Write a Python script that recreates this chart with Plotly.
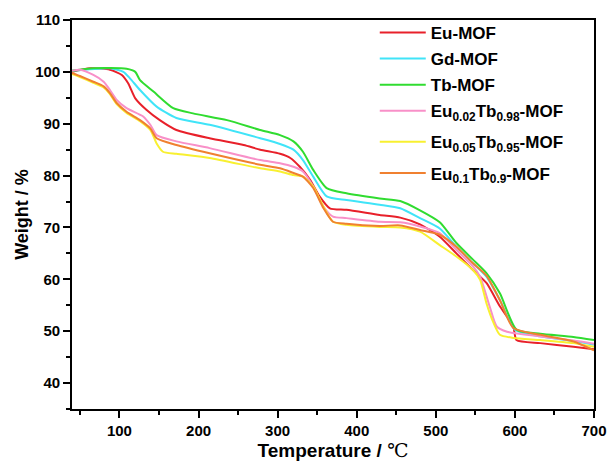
import plotly.graph_objects as go

# Thermogravimetric curves (temperature in deg C, residual weight in %)
eu_T = [40, 63, 88, 103, 111, 120, 134, 151, 172, 214, 257, 278, 303, 316, 328, 341, 353, 366,
        387, 429, 455, 480, 505, 526, 547, 564, 581, 598, 602, 632, 674, 700]
eu_w = [100.0, 100.7, 100.4, 99.4, 97.8, 94.9, 92.7, 90.7, 88.8, 87.2, 85.9, 85.0, 84.2, 83.4,
        81.7, 79.2, 76.0, 73.7, 73.4, 72.4, 71.9, 70.6, 68.2, 65.0, 61.8, 59.3, 54.8, 50.9, 48.3,
        47.7, 47.0, 46.5]

gd_T = [40, 88, 105, 113, 126, 147, 172, 214, 278, 303, 320, 332, 345, 362, 387, 429, 455, 480,
        505, 526, 547, 564, 581, 600, 632, 674, 700]
gd_w = [100.2, 100.7, 100.0, 98.8, 96.5, 93.3, 91.1, 89.8, 87.2, 86.1, 85.0, 83.0, 79.8, 76.0,
        75.3, 74.4, 73.7, 71.8, 69.8, 66.3, 63.1, 60.5, 56.0, 50.3, 49.0, 48.1, 47.4]

tb_T = [40, 67, 109, 120, 126, 143, 168, 193, 236, 278, 303, 320, 332, 345, 362, 387, 429, 455,
        480, 505, 526, 547, 564, 581, 602, 632, 674, 700]
tb_w = [100.2, 100.7, 100.6, 100.0, 98.4, 96.2, 93.0, 92.0, 90.7, 88.8, 87.8, 86.6, 84.6, 81.1,
        77.6, 76.6, 75.6, 75.1, 73.3, 71.0, 67.0, 63.8, 61.2, 57.3, 50.3, 49.5, 48.9, 48.3]

eu002_T = [40, 50, 67, 80, 88, 96.5, 109, 130, 139, 147, 172, 214, 278, 303, 320, 332, 345, 358,
           370, 387, 429, 455, 480, 505, 526, 547, 556, 568, 577, 590, 632, 674, 700]
eu002_w = [100.2, 100.4, 99.4, 98.1, 96.5, 94.6, 93.0, 91.4, 89.8, 87.8, 86.6, 85.3, 83.0, 82.4,
           81.7, 80.8, 77.9, 74.0, 72.1, 71.8, 71.1, 71.0, 70.2, 68.9, 65.7, 62.5, 60.5, 54.8,
           50.9, 49.9, 49.0, 48.2, 47.6]

eu005_T = [40, 50, 67, 80, 88, 96.5, 109, 126, 139, 147, 155, 172, 214, 278, 303, 320, 332, 345,
           358, 370, 387, 429, 455, 480, 505, 526, 547, 556, 564, 573, 581, 598, 632, 674, 700]
eu005_w = [99.6, 99.0, 97.9, 97.0, 95.7, 93.8, 92.1, 90.5, 88.8, 86.2, 84.6, 84.2, 83.4, 81.4,
           80.8, 80.1, 79.8, 77.9, 74.0, 71.1, 70.5, 70.1, 70.0, 69.2, 66.6, 64.4, 61.8, 59.9,
           55.4, 51.6, 49.3, 48.7, 48.3, 47.7, 47.0]

eu01_T = [40, 50, 67, 80, 88, 96.5, 109, 126, 139, 147, 172, 214, 278, 303, 320, 332, 345, 358,
          370, 387, 429, 455, 480, 505, 526, 547, 564, 581, 598, 632, 674, 700]
eu01_w = [99.8, 99.2, 98.1, 97.2, 95.9, 94.0, 92.3, 90.7, 89.1, 87.2, 85.9, 84.3, 82.1, 81.4,
          80.5, 79.8, 77.6, 73.7, 71.1, 70.7, 70.3, 70.4, 69.5, 68.6, 66.3, 63.1, 60.7, 56.0,
          50.6, 49.3, 48.0, 46.3]

names = ["Eu-MOF", "Gd-MOF", "Tb-MOF",
         "Eu<sub>0.02</sub>Tb<sub>0.98</sub>-MOF",
         "Eu<sub>0.05</sub>Tb<sub>0.95</sub>-MOF",
         "Eu<sub>0.1</sub>Tb<sub>0.9</sub>-MOF"]
colors = ["#e8202a", "#40e4f8", "#30dc30", "#f890c8", "#f8f030", "#f08030"]
series = [(eu_T, eu_w), (gd_T, gd_w), (tb_T, tb_w),
          (eu002_T, eu002_w), (eu005_T, eu005_w), (eu01_T, eu01_w)]
# pure compounds go in the first legend block, the doped ones in the second
legend_ids = ["legend", "legend", "legend", "legend2", "legend2", "legend2"]

fig = go.Figure()
for i, (name, color, (t, w), lg) in enumerate(zip(names, colors, series, legend_ids)):
    fig.add_trace(go.Scatter(
        x=t, y=w, name=name, mode="lines", legend=lg, legendgroup=f"g{i}",
        line=dict(color=color, width=2, shape="spline", smoothing=0.6),
    ))

font_main = "Liberation Sans, Arial, sans-serif"

axis_common = dict(
    showline=True, linecolor="black", linewidth=1.6, mirror=True,
    ticks="outside", ticklen=7, tickwidth=1.5, tickcolor="black",
    showgrid=False, zeroline=False, automargin=False,
    tickfont=dict(family=font_main, size=15, color="black", weight="bold"),
)

fig.update_xaxes(
    range=[40, 700], tick0=0, dtick=100,
    minor=dict(dtick=50, ticks="outside", ticklen=4, tickwidth=1.5, tickcolor="black"),
    title=dict(
        text="Temperature / <span style=\"font-family:'DejaVu Serif';font-weight:normal\">℃</span>",
        font=dict(family=font_main, size=19, color="black", weight="bold"),
        standoff=4,
    ),
    **axis_common,
)
fig.update_yaxes(
    range=[35, 110], tick0=0, dtick=10,
    minor=dict(dtick=5, ticks="outside", ticklen=4, tickwidth=1.5, tickcolor="black"),
    title=dict(
        text="Weight / %",
        font=dict(family=font_main, size=18, color="black", weight="bold"),
        standoff=2,
    ),
    **axis_common,
)

legend_style = dict(
    xanchor="left", yanchor="top",
    bgcolor="rgba(0,0,0,0)", borderwidth=0,
    font=dict(family=font_main, size=17, color="black", weight="bold"),
    itemwidth=46,
)

fig.update_layout(
    width=608, height=463,
    margin=dict(l=72, r=14, t=20, b=54),
    paper_bgcolor="white", plot_bgcolor="white",
    legend=dict(x=0.580, y=1.013, tracegroupgap=1, **legend_style),
    legend2=dict(x=0.580, y=0.812, tracegroupgap=6, **legend_style),
)

fig.write_html("out.html")
